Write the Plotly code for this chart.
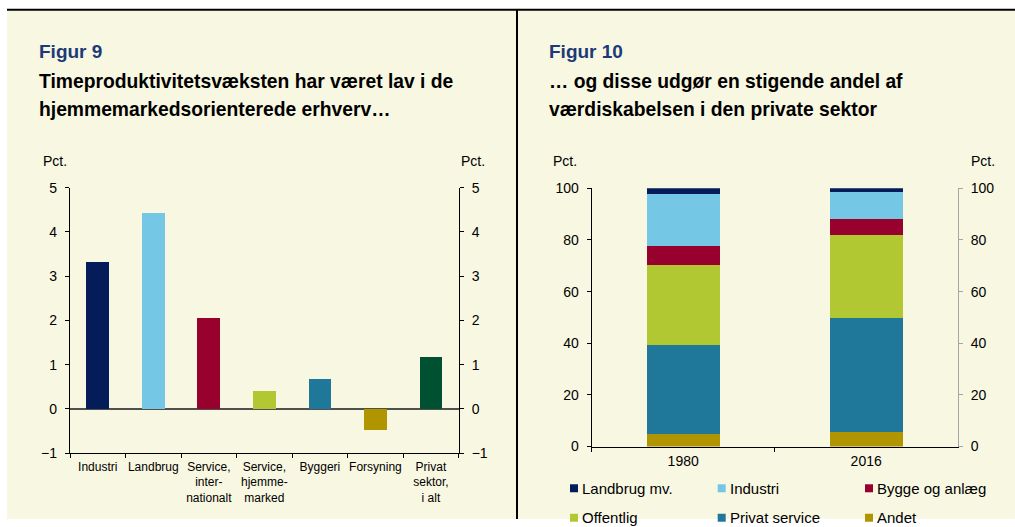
import plotly.graph_objects as go

# Figur 9 - timeproduktivitetsvaekst, pct.
sectors = ["Industri", "Landbrug", "Service,<br>inter-<br>nationalt", "Service,<br>hjemme-<br>marked",
           "Byggeri", "Forsyning", "Privat<br>sektor,<br>i alt"]
growth = [3.32, 4.43, 2.05, 0.41, 0.68, -0.47, 1.17]
sector_colors = ["#041c5a", "#74c8e6", "#98002e", "#b2c833", "#1f7799", "#b09500", "#005131"]

# Figur 10 - andel af vaerdiskabelsen, pct.
years = ["1980", "2016"]
andet = [5.0, 5.7]
privat_service = [34.4, 44.1]
offentlig = [30.9, 32.3]
bygge = [7.4, 6.0]
industri = [20.0, 10.6]
landbrug = [2.3, 1.3]
legend_names = ["Landbrug mv.", "Industri", "Bygge og anlæg", "Offentlig", "Privat service", "Andet"]

W, H = 1015, 527
CREAM = "#f8f7e1"
FONT = "Arial, Liberation Sans, sans-serif"


def px(x):
    return x / W


def py(y):
    # the snapshot squeezes the page a little vertically, so undo that here
    return 1 - ((y - 7.8) / 0.9705) / H


fig = go.Figure()

# left chart
fig.add_trace(go.Bar(x=sectors, y=growth, marker=dict(color=sector_colors, line=dict(width=0)),
                     width=0.41, showlegend=False, xaxis="x", yaxis="y"))
fig.add_trace(go.Scatter(x=[sectors[0]], y=[0], mode="markers", marker=dict(opacity=0),
                         showlegend=False, hoverinfo="skip", xaxis="x", yaxis="y2"))

# right chart, stacked bottom to top
stack = [
    ("Andet", andet, "#b09500"),
    ("Privat service", privat_service, "#1f7799"),
    ("Offentlig", offentlig, "#b2c833"),
    ("Bygge og anlæg", bygge, "#98002e"),
    ("Industri", industri, "#74c8e6"),
    ("Landbrug mv.", landbrug, "#041c5a"),
]
for name, vals, col in stack:
    fig.add_trace(go.Bar(x=years, y=vals, name=name, marker=dict(color=col, line=dict(width=0)),
                         width=0.4, xaxis="x2", yaxis="y3", showlegend=False))
fig.add_trace(go.Scatter(x=[years[0]], y=[0], mode="markers", marker=dict(opacity=0),
                         showlegend=False, hoverinfo="skip", xaxis="x2", yaxis="y4"))

tickfont = dict(family=FONT, size=14, color="#000000")
left_dom_x = [px(70), px(458.7)]
left_dom_y = [py(453.3), py(187.7)]
right_dom_x = [px(591.7), px(957.7)]
right_dom_y = [py(446.7), py(188.3)]

yl = dict(range=[-1, 5], dtick=1, domain=left_dom_y, showgrid=False, showline=True, linecolor="#000000",
          linewidth=1.3, ticks="outside", ticklen=4, tickcolor="#000000", tickfont=tickfont,
          ticklabelstandoff=5, zeroline=False)
yr = dict(range=[0, 100], dtick=20, domain=right_dom_y, showgrid=False, showline=True, linecolor="#000000",
          linewidth=1.3, ticks="outside", ticklen=4, tickcolor="#000000", tickfont=tickfont,
          ticklabelstandoff=5, zeroline=False)

fig.update_layout(
    width=W, height=H,
    margin=dict(l=0, r=0, t=0, b=0),
    paper_bgcolor="#ffffff",
    plot_bgcolor="rgba(0,0,0,0)",
    barmode="stack",
    showlegend=False,
    font=dict(family=FONT, color="#000000"),
    xaxis=dict(domain=left_dom_x, anchor="y", showgrid=False, showline=True, linecolor="#000000",
               linewidth=1.3, ticks="outside", tickson="boundaries", ticklen=4, tickcolor="#000000",
               tickangle=0, tickfont=dict(family=FONT, size=12, color="#000000"), ticklabelstandoff=2),
    yaxis=dict(yl, zeroline=True, zerolinecolor="#505050", zerolinewidth=1.5),
    yaxis2=dict(yl, overlaying="y", side="right", anchor="x"),
    xaxis2=dict(domain=right_dom_x, anchor="y3", showgrid=False, showline=True, linecolor="#000000",
                linewidth=1.3, ticks="outside", tickson="boundaries", ticklen=4, tickcolor="#000000",
                tickangle=0, tickfont=tickfont, ticklabelstandoff=2),
    yaxis3=dict(yr, anchor="x2"),
    yaxis4=dict(yr, overlaying="y3", side="right", anchor="x2", linecolor="#a6a6a6", tickcolor="#a6a6a6"),
)

# background panel and frame lines
fig.add_shape(type="rect", xref="paper", yref="paper", x0=px(7), x1=1, y0=0, y1=py(10),
              fillcolor=CREAM, line=dict(width=0), layer="below")
fig.add_shape(type="line", xref="paper", yref="paper", x0=px(7), x1=1, y0=py(9.5), y1=py(9.5),
              line=dict(color="#000000", width=2))
fig.add_shape(type="line", xref="paper", yref="paper", x0=px(517), x1=px(517), y0=0, y1=py(9.5),
              line=dict(color="#000000", width=2))

# legend for Figur 10, 3 columns x 2 rows
colour_of = {name: col for name, _, col in stack}
col_x = [570, 717.7, 865]
row_y = [488.5, 518]
for i, name in enumerate(legend_names):
    x0, yc = col_x[i % 3], row_y[i // 3]
    fig.add_shape(type="rect", xref="paper", yref="paper", x0=px(x0), x1=px(x0 + 8),
                  y0=py(yc + 4), y1=py(yc - 4), fillcolor=colour_of[name], line=dict(width=0))
    fig.add_annotation(x=px(x0 + 10), y=py(yc), xref="paper", yref="paper", text=name, showarrow=False,
                       xanchor="left", yanchor="middle", font=dict(family=FONT, size=15, color="#000000"))

annots = [
    (36.5, 51, "<b>Figur 9</b>", "#1c3a78", 19),
    (36.5, 81, "<b>Timeproduktivitetsvæksten har været lav i de</b>", "#000000", 19.3),
    (36.5, 109, "<b>hjemmemarkedsorienterede erhverv…</b>", "#000000", 19.3),
    (546.5, 51, "<b>Figur 10</b>", "#1c3a78", 19),
    (546.5, 81, "<b>… og disse udgør en stigende andel af</b>", "#000000", 19.3),
    (546.5, 109, "<b>værdiskabelsen i den private sektor</b>", "#000000", 19.3),
]
for x, y, t, c, s in annots:
    fig.add_annotation(x=px(x), y=py(y), xref="paper", yref="paper", text=t, showarrow=False,
                       xanchor="left", yanchor="middle", font=dict(family=FONT, size=s, color=c))

for x in [55, 472.5, 565, 983]:
    fig.add_annotation(x=px(x), y=py(161), xref="paper", yref="paper", text="Pct.", showarrow=False,
                       xanchor="center", yanchor="middle", font=dict(family=FONT, size=14, color="#000000"))

# pin the figure to the top-left corner, cream below it, let text run past the svg edge
pin = ("document.documentElement.style.margin='0';document.body.style.margin='0';"
       "document.body.style.padding='0';document.body.style.overflow='hidden';"
       "document.documentElement.style.background='linear-gradient(to bottom,#ffffff 50%,#f8f7e1 50%)';"
       "var g=document.getElementsByClassName('plotly-graph-div')[0];"
       "g.style.position='absolute';g.style.top='0px';g.style.left='0px';"
       "document.querySelectorAll('svg.main-svg').forEach(function(s){s.style.overflow='visible';});")
fig.write_html("out.html", config={"displayModeBar": False}, post_script=pin)
